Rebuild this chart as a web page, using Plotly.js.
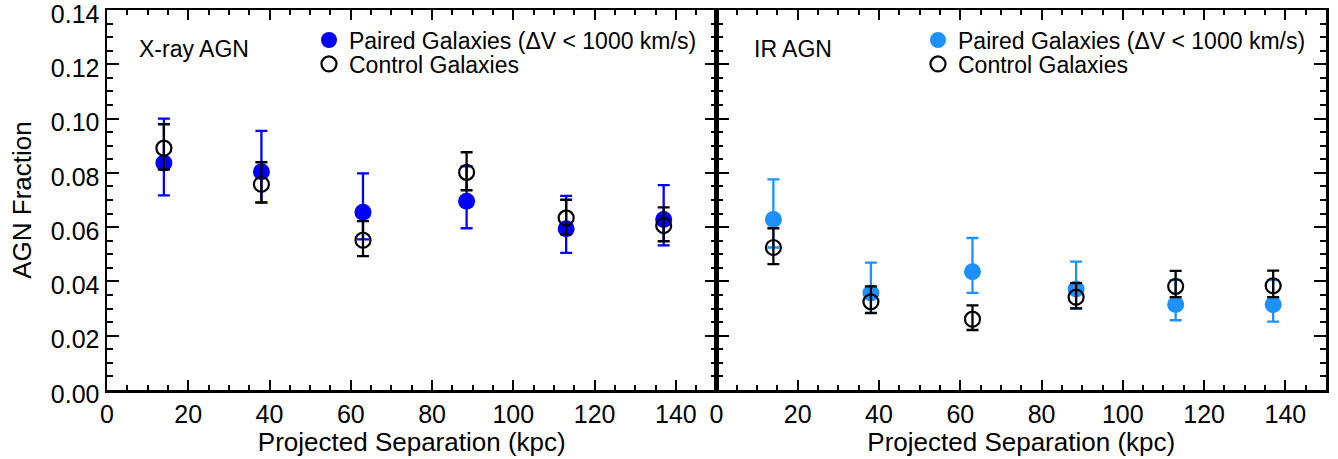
<!DOCTYPE html>
<html>
<head>
<meta charset="utf-8">
<script src="https://cdn.plot.ly/plotly-3.0.1.min.js"></script>
<style>html,body{margin:0;padding:0;background:#fff;}#chart{width:1338px;height:459px;}</style>
</head>
<body>
<div id="chart"></div>
<script>
// Projected separation bins (kpc)
const separation = [14, 38, 63, 88.5, 113, 137];

// X-ray AGN panel
const xrayPaired = [0.0836, 0.0804, 0.0655, 0.0695, 0.0594, 0.0628];
const xrayPairedErrPlus = [0.0164, 0.0151, 0.0143, 0.0129, 0.0121, 0.0127];
const xrayPairedErrMinus = [0.0119, 0.0114, 0.0100, 0.0099, 0.0089, 0.0095];
const xrayControl = [0.0891, 0.0758, 0.0552, 0.0802, 0.0634, 0.0606];
const xrayControlErrPlus = [0.0088, 0.0081, 0.0070, 0.0074, 0.0067, 0.0067];
const xrayControlErrMinus = [0.0079, 0.0067, 0.0059, 0.0066, 0.0061, 0.0058];

// IR AGN panel
const irPaired = [0.0628, 0.0357, 0.0436, 0.0372, 0.0315, 0.0315];
const irPairedErrPlus = [0.0148, 0.0112, 0.0124, 0.0101, 0.0090, 0.0090];
const irPairedErrMinus = [0.0103, 0.0072, 0.0078, 0.0072, 0.0058, 0.0063];
const irControl = [0.0525, 0.0325, 0.0261, 0.0342, 0.0382, 0.0384];
const irControlErrPlus = [0.0071, 0.0057, 0.0051, 0.0052, 0.0057, 0.0056];
const irControlErrMinus = [0.0061, 0.0042, 0.0040, 0.0041, 0.0040, 0.0042];

const pairedName = 'Paired Galaxies (ΔV < 1000 km/s)';
const controlName = 'Control Galaxies';
const panelLabels = ['X-ray AGN', 'IR AGN'];

const FONT = 'Liberation Sans, Arial, Helvetica, sans-serif';
const blueX = '#0000ff';
const blueIR = '#1e90ff';

function paired(y, plus, minus, color, xa, ya, leg) {
  return {
    x: separation, y: y, xaxis: xa, yaxis: ya, type: 'scatter', mode: 'markers',
    name: pairedName, legend: leg,
    marker: {symbol: 'circle', size: 17, color: color},
    error_y: {type: 'data', symmetric: false, array: plus, arrayminus: minus,
              color: color, thickness: 2.3, width: 6}
  };
}
function control(y, plus, minus, xa, ya, leg) {
  return {
    x: separation, y: y, xaxis: xa, yaxis: ya, type: 'scatter', mode: 'markers',
    name: controlName, legend: leg,
    marker: {symbol: 'circle-open', size: 15, color: '#000', line: {color: '#000', width: 2.2}},
    error_y: {type: 'data', symmetric: false, array: plus, arrayminus: minus,
              color: '#000', thickness: 2.3, width: 6}
  };
}

const data = [
  paired(xrayPaired, xrayPairedErrPlus, xrayPairedErrMinus, blueX, 'x', 'y', 'legend'),
  control(xrayControl, xrayControlErrPlus, xrayControlErrMinus, 'x', 'y', 'legend2'),
  paired(irPaired, irPairedErrPlus, irPairedErrMinus, blueIR, 'x2', 'y2', 'legend3'),
  control(irControl, irControlErrPlus, irControlErrMinus, 'x2', 'y2', 'legend4')
];

function xax(domain, anchor) {
  return {
    domain: domain, anchor: anchor, range: [0, 150], tick0: 0, dtick: 20,
    ticks: 'inside', ticklen: 10, tickwidth: 2, tickcolor: '#000',
    minor: {ticks: 'inside', ticklen: 5, dtick: 5, tick0: 0, tickwidth: 2, tickcolor: '#000'},
    showline: true, linewidth: 2.5, linecolor: '#000', mirror: 'ticks',
    showgrid: false, zeroline: false,
    tickfont: {family: FONT, size: 25, color: '#000'},
    title: {text: 'Projected Separation (kpc)', font: {family: FONT, size: 26, color: '#000'}, standoff: 4}
  };
}
function yax(anchor, labels) {
  return {
    anchor: anchor, range: [0, 0.14], tick0: 0, dtick: 0.02, tickformat: '.2f',
    ticks: 'inside', ticklen: 12, tickwidth: 2, tickcolor: '#000',
    minor: {ticks: 'inside', ticklen: 6, dtick: 0.005, tick0: 0, tickwidth: 2, tickcolor: '#000'},
    showline: true, linewidth: 2.5, linecolor: '#000', mirror: 'ticks',
    showgrid: false, zeroline: false, showticklabels: labels,
    ticklabeloverflow: 'allow', ticklabelshift: 4,
    tickfont: {family: FONT, size: 25, color: '#000'},
    title: labels ? {text: 'AGN Fraction', font: {family: FONT, size: 26, color: '#000'}, standoff: 12} : {text: ''}
  };
}

function leg(x, y) {
  return {x: x, y: y, xanchor: 'left', yanchor: 'middle', bgcolor: 'rgba(0,0,0,0)',
          borderwidth: 0, font: {family: FONT, size: 23, color: '#000'}, itemsizing: 'trace'};
}

const layout = {
  width: 1338, height: 459,
  margin: {l: 107, r: 12, t: 10, b: 69},
  paper_bgcolor: '#fff', plot_bgcolor: '#fff',
  font: {family: FONT, color: '#000'},
  xaxis: xax([0, 0.5], 'y'),
  xaxis2: xax([0.5, 1], 'y2'),
  yaxis: yax('x', true),
  yaxis2: yax('x2', false),
  legend: leg(0.1657, 0.921),
  legend2: leg(0.1657, 0.858),
  legend3: leg(0.6653, 0.921),
  legend4: leg(0.6653, 0.858),
  annotations: [
    {text: panelLabels[0], xref: 'x domain', yref: 'y domain', x: 0.049, y: 0.898,
     xanchor: 'left', yanchor: 'middle', showarrow: false, font: {family: FONT, size: 23, color: '#000'}},
    {text: panelLabels[1], xref: 'x2 domain', yref: 'y2 domain', x: 0.059, y: 0.898,
     xanchor: 'left', yanchor: 'middle', showarrow: false, font: {family: FONT, size: 23, color: '#000'}}
  ],
  showlegend: true
};

Plotly.newPlot('chart', data, layout, {displayModeBar: false, staticPlot: true});
</script>
</body>
</html>
